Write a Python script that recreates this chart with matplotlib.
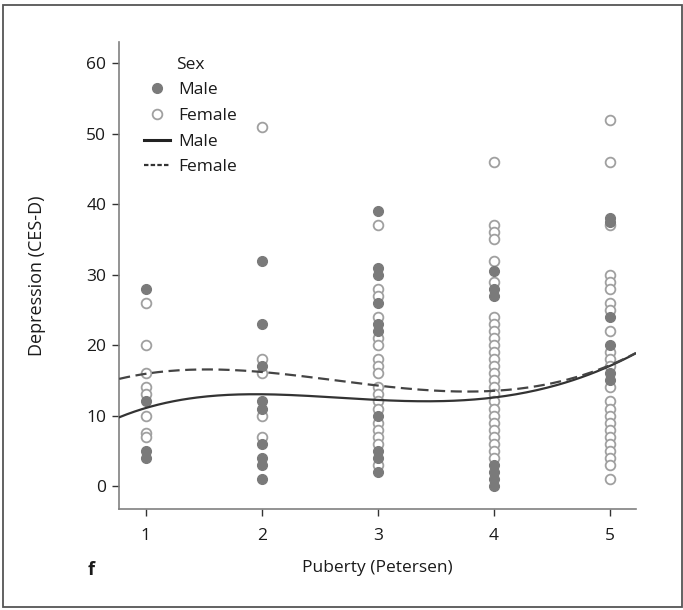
import numpy as np
import matplotlib
matplotlib.use("Agg")
import matplotlib.pyplot as plt
from matplotlib.lines import Line2D
from matplotlib.patches import Rectangle

plt.rcParams['font.family'] = ['Open Sans', 'DejaVu Sans']

# ---- data ----
puberty_levels = [1, 2, 3, 4, 5]

male_values = {
    1: [28, 12, 5, 4],
    2: [32, 23, 17, 12, 11, 6, 4, 3, 1],
    3: [39, 31, 30, 26, 23, 22, 10, 5, 4, 2],
    4: [30.5, 28, 27, 3, 2, 1, 0],
    5: [38, 37.5, 24, 20, 16, 15],
}
female_values = {
    1: [26, 20, 16, 14, 13, 10, 7.5, 7],
    2: [51, 18, 16, 10, 7],
    3: [37, 28, 27, 24, 21, 20, 18, 17, 16, 14, 13, 12, 11, 9, 8, 7, 6, 3],
    4: [46, 37, 36, 35, 32, 29, 24, 23, 22, 21, 20, 19, 18, 17, 16, 15, 14,
        13, 12, 11, 10, 9, 8, 7, 6, 5, 4],
    5: [52, 46, 37, 30, 29, 28, 26, 25, 22, 19, 18, 17, 14, 12, 11, 10, 9,
        8, 7, 6, 5, 4, 3, 1],
}

# fitted curves, read at these puberty positions
curve_x = [0.77, 1.0, 1.5, 2.0, 2.5, 3.0, 3.5, 4.0, 4.5, 5.0, 5.22]
curve_male = [9.8, 11.0, 12.7, 13.0, 12.7, 12.3, 12.0, 12.4, 14.3, 17.0, 18.8]
curve_female = [15.3, 15.8, 16.5, 16.3, 15.3, 14.2, 13.5, 13.5, 14.6, 17.2, 18.8]

xticks = [1, 2, 3, 4, 5]
yticks = [0, 10, 20, 30, 40, 50, 60]

# ---- figure ----
fig = plt.figure(figsize=(6.83, 6.10), dpi=100)
ax = fig.add_axes([0.174, 0.1656, 0.757, 0.7654])

male_col = '#7a7a7a'
fem_col = '#a0a0a0'
ms = 7

for lv in puberty_levels:
    fv = female_values[lv]
    ax.plot([lv] * len(fv), fv, linestyle='none', marker='o', ms=ms,
            mfc='white', mec=fem_col, mew=1.3, zorder=3)
    mv = male_values[lv]
    ax.plot([lv] * len(mv), mv, linestyle='none', marker='o', ms=ms,
            mfc=male_col, mec=male_col, mew=1.0, zorder=4)

xs = np.linspace(curve_x[0], curve_x[-1], 200)
pm = np.polyfit(curve_x, curve_male, 4)
pf = np.polyfit(curve_x, curve_female, 4)
ax.plot(xs, np.polyval(pm, xs), color='#333333', lw=1.6, zorder=5)
ax.plot(xs, np.polyval(pf, xs), color='#444444', lw=1.6,
        dashes=(5, 2.5), zorder=5)

ax.set_xlim(0.767, 5.224)
ax.set_ylim(-3.26, 63)
ax.set_xticks(xticks)
ax.set_yticks(yticks)
for s in ['top', 'right']:
    ax.spines[s].set_visible(False)
for s in ['left', 'bottom']:
    ax.spines[s].set_color('#808080')
    ax.spines[s].set_linewidth(1.2)
ax.tick_params(axis='both', colors='#333333', labelsize=12.5, length=5,
               width=1.0, direction='out', labelcolor='#1a1a1a')
ax.tick_params(axis='y', pad=4)
ax.tick_params(axis='x', pad=9)

ax.set_xlabel('Puberty (Petersen)', fontsize=12.5, color='#1a1a1a',
              labelpad=11)
ax.set_ylabel('Depression (CES-D)', fontsize=13, color='#1a1a1a',
              labelpad=29)

handles = [
    Line2D([], [], linestyle='none', marker='o', ms=ms, mfc=male_col,
           mec=male_col),
    Line2D([], [], linestyle='none', marker='o', ms=ms, mfc='white',
           mec=fem_col, mew=1.3),
    Line2D([], [], color='#222222', lw=2.2),
    Line2D([], [], color='#333333', lw=1.6, dashes=(2, 1)),
]
labels = ['Male', 'Female', 'Male', 'Female']
leg = ax.legend(handles, labels, title='Sex', loc='upper left',
                bbox_to_anchor=(0.025, 0.995), frameon=False, fontsize=12.5,
                title_fontsize=12.5, handlelength=1.5, handletextpad=0.45,
                labelspacing=0.55, borderaxespad=0.3)
leg.get_title().set_color('#1a1a1a')
for t in leg.get_texts():
    t.set_color('#1a1a1a')

fig.text(88 / 683, 1 - 570 / 610, 'f', fontsize=13, fontweight='bold',
         color='#1a1a1a', ha='left', va='center')

fig.patches.append(Rectangle((3 / 683, 3 / 610), 679 / 683, 602 / 610,
                             transform=fig.transFigure, fill=False,
                             edgecolor='#555555', lw=1.3))

fig.savefig('out.png', dpi=100)
